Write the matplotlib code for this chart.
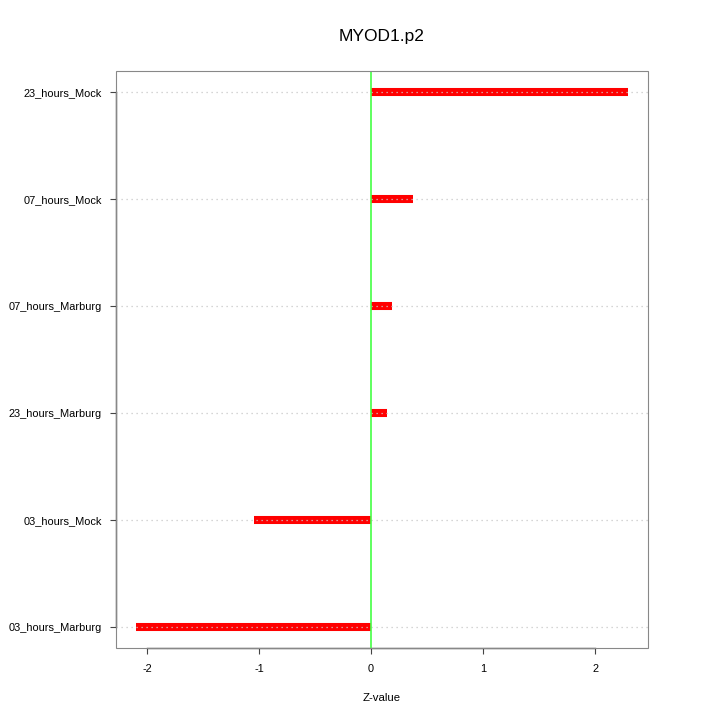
import matplotlib
matplotlib.use("Agg")
import matplotlib.pyplot as plt
from matplotlib.patches import Rectangle

categories = ["03_hours_Marburg", "03_hours_Mock", "23_hours_Marburg",
              "07_hours_Marburg", "07_hours_Mock", "23_hours_Mock"]
zvalues = [-2.10, -1.045, 0.14, 0.19, 0.375, 2.295]
xticks = [-2, -1, 0, 1, 2]

plt.rcParams['font.family'] = ['Liberation Sans', 'DejaVu Sans']

fig = plt.figure(figsize=(7.2, 7.2), dpi=100)
ax = fig.add_axes([116/720, 1-648/720, (648-116)/720, (648-71)/720])

ypos = list(range(len(categories)))
ax.hlines(ypos, 0, zvalues, colors='#ff0000', linewidth=5.8, capstyle='butt', zorder=2)
for y in ypos:
    ax.axhline(y, color='#c8c8c8', linestyle=(0, (1, 3)), linewidth=0.9, zorder=3)
ax.axvline(0, color='#44ff44', linewidth=1.2, zorder=4)

ax.set_xlim(-2.277, 2.473)
ax.set_ylim(-0.196, 5.196)
ax.set_xticks(xticks)
ax.set_xticklabels([str(t) for t in xticks])
ax.set_yticks(ypos)
ax.set_yticklabels(categories)
ax.tick_params(axis='both', labelsize=7.9, length=4.5, width=0.8, color='#444444', direction='out')
ax.tick_params(axis='x', pad=7)
ax.tick_params(axis='y', pad=5.5)

for side in ['top', 'right']:
    ax.spines[side].set_visible(False)
ax.spines['bottom'].set_bounds(-2, 2)
ax.spines['left'].set_bounds(0, 5)
ax.spines['bottom'].set_color('#444444')
ax.spines['left'].set_color('#444444')
ax.spines['bottom'].set_linewidth(1.0)
ax.spines['left'].set_linewidth(1.0)
ax.add_patch(Rectangle((0, 0), 1, 1, transform=ax.transAxes, fill=False,
                       edgecolor='#888888', linewidth=0.8, clip_on=False, zorder=5))

ax.set_xlabel("Z-value", fontsize=8.2, labelpad=14)
fig.text((116 + 648) / 2 / 720, 1-36/720, "MYOD1.p2", ha='center', va='center', fontsize=12.5)

fig.savefig("out.png", dpi=100)
